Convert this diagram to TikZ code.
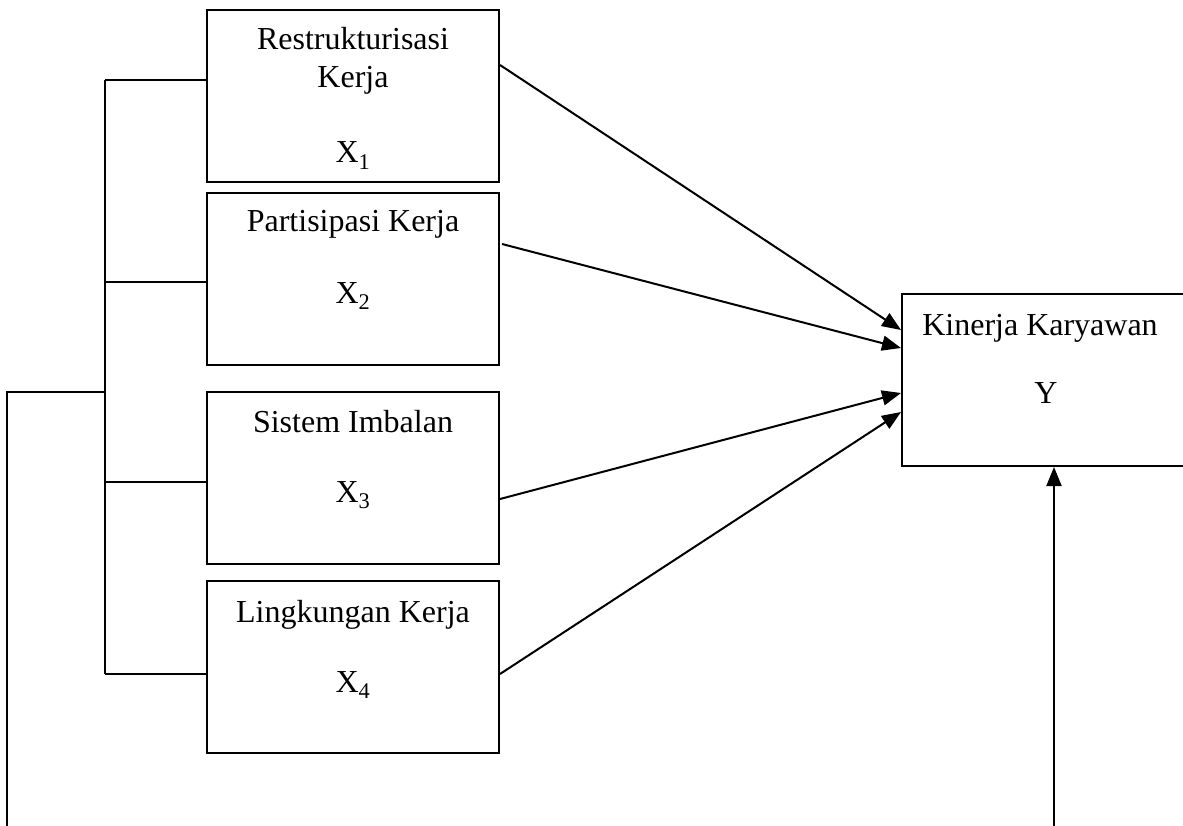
\documentclass[tikz,border=0pt]{standalone}
\usepackage{fontspec}
\setmainfont{Liberation Serif}
\usetikzlibrary{arrows.meta,calc}
\begin{document}
\begin{tikzpicture}[x=1pt,y=-1pt,
  box/.style={draw,line width=2pt,rectangle,inner sep=0pt,minimum width=292pt,minimum height=172pt},
  lbl/.style={anchor=base,inner sep=0pt,font=\fontsize{32}{38}\selectfont},
  ln/.style={line width=2pt},
  arr/.style={line width=2pt,-{Triangle[length=19pt,width=15pt]}}]
\useasboundingbox (0,0) rectangle (1183,826);
\clip (0,0) rectangle (1183,826);
% boxes
\node[box] (x1) at (353,96) {};
\node[box] (x2) at (353,279) {};
\node[box] (x3) at (353,477.5) {};
\node[box] (x4) at (353,667) {};
\node[box,minimum width=298pt] (y) at (1051,380) {};
% texts
\node[lbl] (t1a) at (353,50) {Restrukturisasi};
\node[lbl] (t1b) at (353,88) {Kerja};
\node[lbl] (t1c) at (353,163) {X\textsubscript{1}};
\node[lbl] (t2a) at (353,232) {Partisipasi Kerja};
\node[lbl] (t2b) at (353,303) {X\textsubscript{2}};
\node[lbl] (t3a) at (353,432) {Sistem Imbalan};
\node[lbl] (t3b) at (353,502) {X\textsubscript{3}};
\node[lbl] (t4a) at (353,622) {Lingkungan Kerja};
\node[lbl] (t4b) at (353,692) {X\textsubscript{4}};
\node[lbl] (tya) at (1040,335) {Kinerja Karyawan};
\node[lbl] (tyb) at (1046,403) {Y};
% bracket
\coordinate (btop) at (105,80);
\coordinate (bbot) at (105,674);
\coordinate (bmid) at (105,392);
\coordinate (lcorner) at (7,392);
\coordinate (lend) at (7,830);
\coordinate (rstart) at (1054,830);
\draw[ln] (btop) -- (bbot);
\draw[ln] (btop) -- ([yshift=16pt]x1.west);
\draw[ln] (btop |- 0,282) -- ([yshift=-3pt]x2.west);
\draw[ln] (btop |- 0,482) -- ([yshift=-4.5pt]x3.west);
\draw[ln] (bbot) -- ([yshift=-7pt]x4.west);
\draw[ln] (bmid) -- (lcorner) -- (lend);
% arrows to Y
\draw[arr] ([yshift=31pt]x1.east) -- ([yshift=50pt]y.west);
\draw[arr] ([yshift=35pt,xshift=2pt]x2.east) -- ([yshift=32pt]y.west);
\draw[arr] ([yshift=-21.5pt]x3.east) -- ([yshift=-13pt]y.west);
\draw[arr] ([yshift=-7pt]x4.east) -- ([yshift=-32pt]y.west);
\draw[arr] (rstart) -- (rstart |- y.south);
\end{tikzpicture}
\end{document}
